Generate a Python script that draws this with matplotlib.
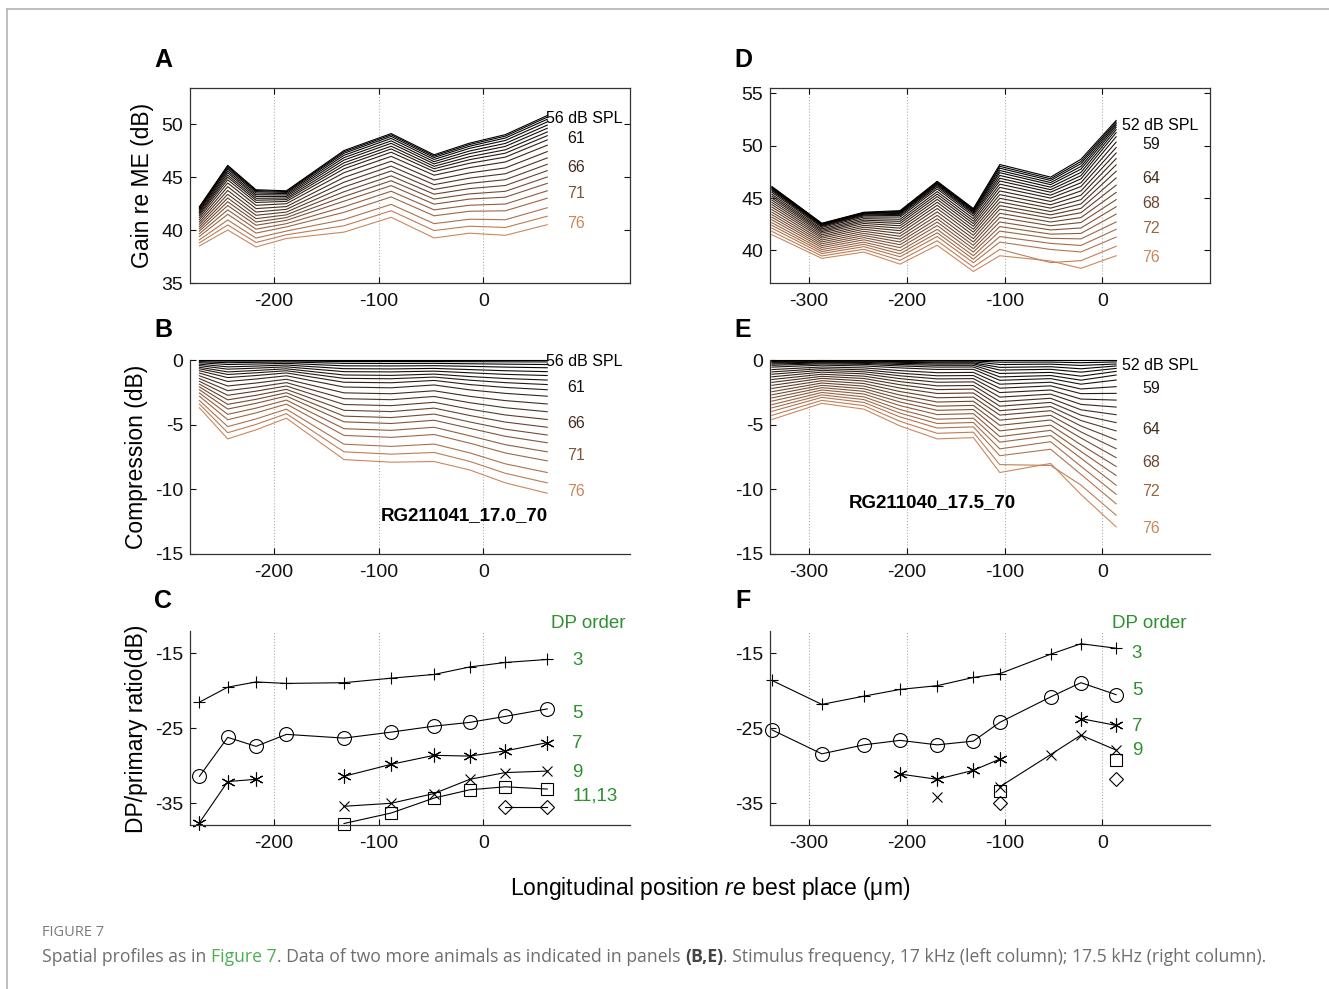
import numpy as np
import matplotlib.pyplot as plt
from matplotlib.lines import Line2D

plt.rcParams['font.family'] = ['Liberation Sans', 'DejaVu Sans']
plt.rcParams['mathtext.fontset'] = 'custom'
plt.rcParams['mathtext.it'] = 'Liberation Sans:italic'
plt.rcParams['mathtext.rm'] = 'Liberation Sans'
plt.rcParams['axes.unicode_minus'] = False

# ---- data, left animal (RG211041, 17 kHz) ----
pos_left = [-271, -244, -217, -188, -133, -88, -47, -13, 21, 61]
levels_left = list(range(56, 77))
gain_low_left = [42.2, 46.1, 43.8, 43.7, 47.5, 49.1, 47.1, 48.2, 49.0, 50.8]   # gain at 56 dB SPL
comp_left = [
    [0, 0, 0, 0, 0, 0, 0, 0, 0, 0],
    [-0.06, -0.09, -0.08, -0.07, -0.12, -0.12, -0.12, -0.13, -0.14, -0.15],
    [-0.13, -0.21, -0.18, -0.15, -0.26, -0.27, -0.26, -0.29, -0.32, -0.35],
    [-0.21, -0.35, -0.31, -0.26, -0.45, -0.46, -0.44, -0.49, -0.55, -0.6],
    [-0.32, -0.53, -0.47, -0.39, -0.67, -0.69, -0.65, -0.74, -0.83, -0.9],
    [-0.43, -0.71, -0.63, -0.53, -0.9, -0.92, -0.86, -0.99, -1.11, -1.2],
    [-0.56, -0.92, -0.81, -0.68, -1.16, -1.19, -1.09, -1.28, -1.43, -1.55],
    [-0.68, -1.12, -0.99, -0.83, -1.42, -1.45, -1.32, -1.56, -1.75, -1.9],
    [-0.83, -1.36, -1.2, -1.0, -1.72, -1.76, -1.58, -1.9, -2.12, -2.3],
    [-1.01, -1.66, -1.47, -1.22, -2.09, -2.15, -1.93, -2.31, -2.58, -2.8],
    [-1.22, -2.01, -1.78, -1.49, -2.54, -2.61, -2.38, -2.81, -3.14, -3.4],
    [-1.44, -2.37, -2.1, -1.75, -2.99, -3.07, -2.82, -3.3, -3.69, -4.0],
    [-1.65, -2.73, -2.41, -2.01, -3.44, -3.53, -3.27, -3.8, -4.25, -4.6],
    [-1.87, -3.08, -2.73, -2.27, -3.89, -3.99, -3.72, -4.29, -4.8, -5.2],
    [-2.08, -3.43, -3.04, -2.53, -4.34, -4.45, -4.18, -4.79, -5.35, -5.8],
    [-2.3, -3.79, -3.35, -2.79, -4.78, -4.91, -4.66, -5.28, -5.9, -6.4],
    [-2.55, -4.2, -3.72, -3.1, -5.31, -5.44, -5.2, -5.86, -6.55, -7.1],
    [-2.8, -4.62, -4.09, -3.41, -5.83, -5.98, -5.76, -6.43, -7.19, -7.8],
    [-3.13, -5.15, -4.56, -3.8, -6.51, -6.68, -6.5, -7.18, -8.03, -8.7],
    [-3.41, -5.62, -4.98, -4.15, -7.1, -7.28, -7.15, -7.84, -8.76, -9.5],
    [-3.7, -6.1, -5.4, -4.5, -7.7, -7.9, -7.85, -8.5, -9.5, -10.3],
]
nan = np.nan
dp3_left = [-21.5, -19.5, -18.8, -19.0, -18.9, -18.3, -17.8, -16.8, -16.2, -15.8]
dp5_left = [-31.4, -26.2, -27.4, -25.8, -26.3, -25.5, -24.7, -24.2, -23.4, -22.4]
dp7_left = [-37.6, -32.1, -31.8, nan, -31.4, -29.8, -28.6, -28.7, -28.0, -26.9]
dp9_left = [nan, nan, nan, nan, -35.4, -35.0, -33.7, -31.8, -30.9, -30.7]
dp11_left = [nan, nan, nan, nan, -37.7, -36.3, -34.3, -33.2, -32.8, -33.1]
dp13_left = [nan, nan, nan, nan, nan, nan, nan, nan, -35.5, -35.5]

# ---- data, right animal (RG211040, 17.5 kHz) ----
pos_right = [-338, -287, -244, -207, -169, -132, -105, -53, -22, 14]
levels_right = list(range(52, 77))
gain_low_right = [46.1, 42.6, 43.65, 43.8, 46.6, 44.0, 48.2, 47.0, 48.7, 52.4]  # gain at 52 dB SPL
comp_right = [
    [0, 0, 0, 0, 0, 0, 0, 0, 0, 0],
    [-0.06, -0.04, -0.05, -0.06, -0.07, -0.07, -0.17, -0.16, -0.21, -0.15],
    [-0.11, -0.08, -0.09, -0.12, -0.15, -0.14, -0.35, -0.32, -0.42, -0.31],
    [-0.17, -0.12, -0.14, -0.18, -0.22, -0.22, -0.57, -0.52, -0.68, -0.46],
    [-0.23, -0.17, -0.19, -0.26, -0.31, -0.3, -0.78, -0.72, -0.94, -0.65],
    [-0.31, -0.23, -0.26, -0.35, -0.41, -0.41, -1.04, -0.96, -1.25, -0.88],
    [-0.41, -0.3, -0.34, -0.46, -0.55, -0.54, -1.31, -1.2, -1.56, -1.16],
    [-0.55, -0.4, -0.46, -0.61, -0.73, -0.72, -1.57, -1.44, -1.87, -1.55],
    [-0.74, -0.54, -0.61, -0.82, -0.98, -0.96, -1.87, -1.72, -2.24, -2.06],
    [-0.92, -0.67, -0.76, -1.02, -1.22, -1.2, -2.18, -2.0, -2.6, -2.58],
    [-1.1, -0.8, -0.91, -1.22, -1.46, -1.44, -2.52, -2.32, -3.02, -3.1],
    [-1.3, -0.94, -1.07, -1.44, -1.72, -1.69, -2.87, -2.64, -3.43, -3.64],
    [-1.51, -1.1, -1.25, -1.67, -2.0, -1.97, -3.22, -2.96, -3.85, -4.23],
    [-1.73, -1.26, -1.43, -1.91, -2.29, -2.25, -3.57, -3.28, -4.26, -4.84],
    [-1.96, -1.42, -1.62, -2.17, -2.59, -2.55, -3.92, -3.6, -4.68, -5.48],
    [-2.2, -1.6, -1.82, -2.44, -2.92, -2.87, -4.26, -3.92, -5.1, -6.17],
    [-2.45, -1.78, -2.02, -2.71, -3.25, -3.19, -4.65, -4.28, -5.56, -6.86],
    [-2.69, -1.96, -2.22, -2.98, -3.57, -3.51, -5.05, -4.64, -6.03, -7.55],
    [-2.93, -2.14, -2.42, -3.25, -3.89, -3.83, -5.48, -5.04, -6.55, -8.23],
    [-3.18, -2.32, -2.63, -3.53, -4.22, -4.15, -5.92, -5.44, -7.07, -8.93],
    [-3.45, -2.51, -2.85, -3.83, -4.58, -4.5, -6.35, -5.84, -7.59, -9.68],
    [-3.7, -2.7, -3.06, -4.11, -4.91, -4.83, -6.87, -6.32, -8.22, -10.38],
    [-3.97, -2.89, -3.28, -4.4, -5.26, -5.17, -7.4, -6.9, -8.84, -11.12],
    [-4.28, -3.12, -3.53, -4.74, -5.67, -5.58, -8.09, -8.15, -9.67, -12.0],
    [-4.6, -3.35, -3.8, -5.1, -6.1, -6.0, -8.7, -8.0, -10.4, -12.9],
]
dp3_right = [-18.6, -21.8, -20.7, -19.8, -19.3, -18.2, -17.7, -15.1, -13.7, -14.3]
dp5_right = [-25.2, -28.4, -27.2, -26.6, -27.2, -26.7, -24.2, -20.8, -18.9, -20.5]
dp7_right = [nan, nan, nan, -31.1, -31.8, -30.6, -29.1, nan, -23.7, -24.6]
dp9_right = [nan, nan, nan, nan, -34.1, nan, -32.8, -28.5, -25.9, -27.9]
dp11_right = [nan, nan, nan, nan, nan, nan, -33.4, nan, nan, -29.2]
dp13_right = [nan, nan, nan, nan, nan, nan, -35.0, nan, nan, -31.8]

W, H = 1329, 989
fig = plt.figure(figsize=(W / 100, H / 100), dpi=100)
tan = np.array([0.80, 0.53, 0.36])
green = '#2f9030'


def box(px_left, px_top, px_right, px_bottom):
    return [px_left / W, 1 - px_bottom / H, (px_right - px_left) / W, (px_bottom - px_top) / H]


def style(ax, full_box=False):
    ax.tick_params(direction='in', length=4, width=0.8, labelsize=14, pad=5,
                   top=full_box, right=full_box, colors='#111111')
    ax.tick_params(axis='x', pad=7)
    for s in ax.spines.values():
        s.set_color('#333333')
        s.set_linewidth(0.9)
    if not full_box:
        ax.spines['top'].set_visible(False)
        ax.spines['right'].set_visible(False)
    ax.grid(axis='x', linestyle=':', color='#b0b0b0', lw=0.8)
    ax.set_axisbelow(True)


def level_color(i, n):
    # black for the lowest level, tan for the highest
    return tan * (i / (n - 1)) ** 1.6


def level_panels(ax_g, ax_c, pos, levels, gain_low, comp, labels, gain_y, comp_y, x_first, x_rest):
    n = len(levels)
    g0 = np.array(gain_low)
    for i in range(n - 1, -1, -1):
        c = np.array(comp[i])
        col = level_color(i, n)
        ax_g.plot(pos, g0 + c, color=col, lw=0.8, clip_on=False)
        ax_c.plot(pos, c, color=col, lw=0.8, clip_on=False)
    for k, lev in enumerate(labels):
        col = level_color(levels.index(lev), n)
        txt = f'{lev} dB SPL' if k == 0 else str(lev)
        xx = x_first if k == 0 else x_rest
        ax_g.text(xx, gain_y[k], txt, color=col, fontsize=11.5, va='center')
        ax_c.text(xx, comp_y[k], txt, color=col, fontsize=11.5, va='center')


def dp_panel(ax, pos, series):
    marks = ['+', 'o', (6, 2, 0), 'x', 's', 'D']
    sizes = [9, 10, 10, 7, 8, 7]
    for vals, m, ms in zip(series, marks, sizes):
        ax.plot(pos, vals, color='black', lw=0.8, marker=m, ms=ms, mfc='none',
                mec='black', mew=0.8, clip_on=False)


# ---- left column ----
axA = fig.add_axes(box(190, 88, 630, 283))
axB = fig.add_axes(box(190, 360, 630, 554))
axC = fig.add_axes(box(190, 631, 630, 825))
level_panels(axA, axB, pos_left, levels_left, gain_low_left, comp_left,
             [56, 61, 66, 71, 76], [50.5, 48.6, 45.9, 43.4, 40.6],
             [-0.15, -2.1, -4.9, -7.35, -10.2], 60, 80)
dp_panel(axC, pos_left, [dp3_left, dp5_left, dp7_left, dp9_left, dp11_left, dp13_left])
for ax in (axA, axB, axC):
    ax.set_xlim(-280, 140)
    ax.set_xticks([-200, -100, 0])
style(axA, True)
style(axB)
style(axC)
axA.set_ylim(35, 53.4)
axA.set_yticks([35, 40, 45, 50])
axB.set_ylim(-15, 0)
axB.set_yticks([-15, -10, -5, 0])
axC.set_ylim(-37.9, -12.0)
axC.set_yticks([-35, -25, -15])
axB.text(62, -12.0, 'RG211041_17.0_70', fontsize=13.5, fontweight='bold', ha='right', va='center')
axC.text(65, -10.95, 'DP order', color=green, fontsize=13.5, va='center')
for t, yy in zip(['3', '5', '7', '9', '11,13'], [-15.9, -23.0, -27.0, -30.9, -34.0]):
    axC.text(85, yy, t, color=green, fontsize=13.5, va='center')

# ---- right column ----
axD = fig.add_axes(box(770, 88, 1210, 283))
axE = fig.add_axes(box(770, 360, 1210, 554))
axF = fig.add_axes(box(770, 631, 1210, 825))
level_panels(axD, axE, pos_right, levels_right, gain_low_right, comp_right,
             [52, 59, 64, 68, 72, 76], [51.9, 50.1, 46.9, 44.45, 42.1, 39.3],
             [-0.46, -2.24, -5.4, -7.9, -10.2, -13.0], 20, 40.5)
dp_panel(axF, pos_right, [dp3_right, dp5_right, dp7_right, dp9_right, dp11_right, dp13_right])
for ax in (axD, axE, axF):
    ax.set_xlim(-340, 110)
    ax.set_xticks([-300, -200, -100, 0])
style(axD, True)
style(axE)
style(axF)
axD.set_ylim(36.9, 55.5)
axD.set_yticks([40, 45, 50, 55])
axE.set_ylim(-15, 0)
axE.set_yticks([-15, -10, -5, 0])
axF.set_ylim(-37.9, -12.0)
axF.set_yticks([-35, -25, -15])
axE.text(-259.5, -11.0, 'RG211040_17.5_70', fontsize=13.5, fontweight='bold', va='center')
axF.text(10, -10.95, 'DP order', color=green, fontsize=13.5, va='center')
for t, yy in zip(['3', '5', '7', '9'], [-15.0, -19.9, -24.8, -27.9]):
    axF.text(30, yy, t, color=green, fontsize=13.5, va='center')

# ---- panel letters and axis labels ----
for letter, px, py in [('A', 163, 60), ('B', 163, 330), ('C', 163, 601),
                       ('D', 743, 60), ('E', 743, 330), ('F', 743, 601)]:
    fig.text(px / W, 1 - py / H, letter, fontsize=18, fontweight='bold', ha='center', va='center')
fig.text(143 / W, 1 - 185.5 / H, 'Gain re ME (dB)', rotation=90, fontsize=16.5, ha='center', va='center')
fig.text(136 / W, 1 - 456.5 / H, 'Compression (dB)', rotation=90, fontsize=16.5, ha='center', va='center')
fig.text(136 / W, 1 - 728.5 / H, 'DP/primary ratio(dB)', rotation=90, fontsize=16.5, ha='center', va='center')
fig.text(710 / W, 1 - 889 / H, r'Longitudinal position $\mathit{re}$ best place (μm)',
         fontsize=16.5, ha='center', va='center')

# ---- page frame and caption ----
fig.add_artist(Line2D([7 / W, 1], [1 - 9 / H, 1 - 9 / H], color='#b4b4b4', lw=1.2))
fig.add_artist(Line2D([7 / W, 7 / W], [0, 1 - 9 / H], color='#b4b4b4', lw=1.2))
fig.text(42 / W, 1 - 933 / H, 'FIGURE 7', fontsize=10.5, color='#7a7a7a',
         family=['Open Sans', 'DejaVu Sans'], va='center')

pieces = [('Spatial profiles as in ', '#6e6e6e', 'normal'),
          ('Figure 7', '#4caf50', 'normal'),
          ('. Data of two more animals as indicated in panels ', '#6e6e6e', 'normal'),
          ('(B,E)', '#444444', 'bold'),
          ('. Stimulus frequency, 17 kHz (left column); 17.5 kHz (right column).', '#6e6e6e', 'normal')]
renderer = fig.canvas.get_renderer()
xpix = 42
for txt, col, wt in pieces:
    t = fig.text(xpix / W, 1 - 957 / H, txt, fontsize=12.7, color=col, fontweight=wt,
                 family=['Open Sans', 'DejaVu Sans'], va='center')
    xpix += t.get_window_extent(renderer).width

fig.savefig('out.png', dpi=100)
